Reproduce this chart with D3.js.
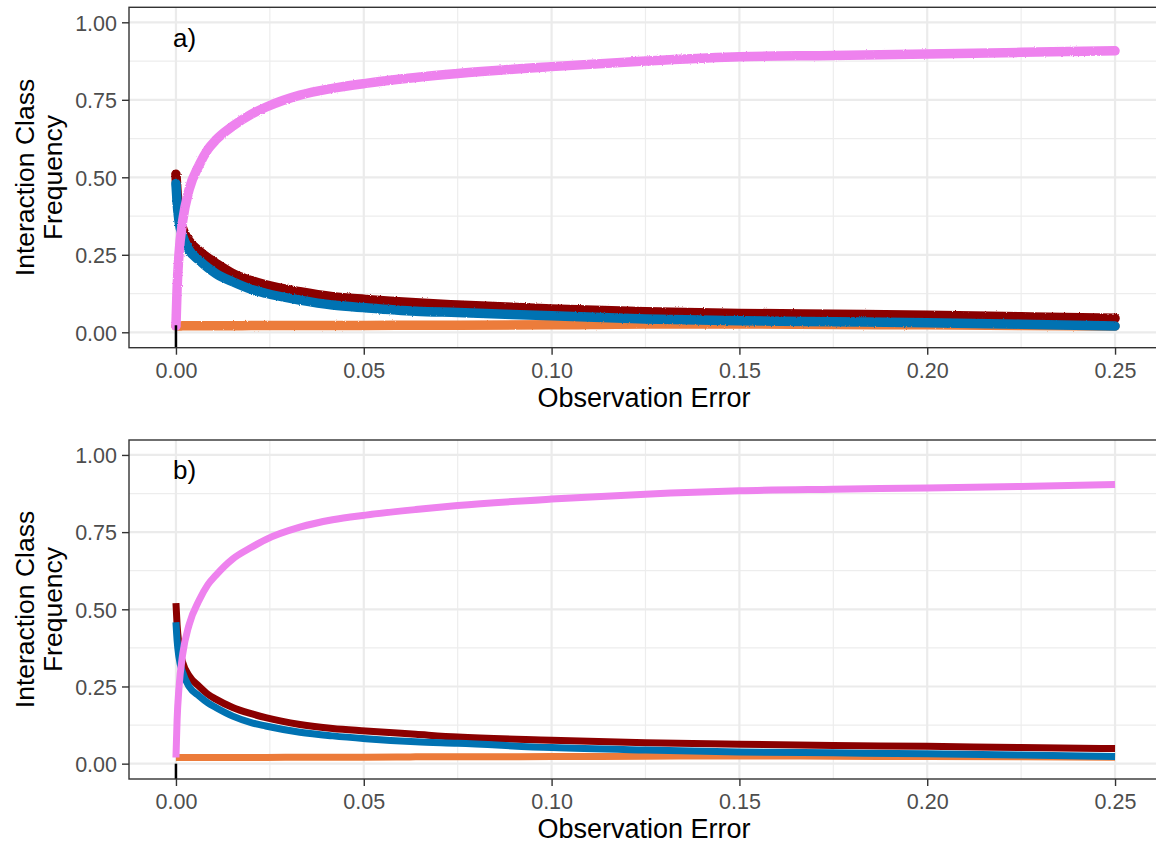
<!DOCTYPE html>
<html>
<head>
<meta charset="utf-8">
<script src="https://cdn.jsdelivr.net/npm/d3@7"></script>
<style>
  html, body { margin: 0; padding: 0; background: #ffffff; }
  svg { display: block; font-family: "Liberation Sans", Arial, sans-serif; }
</style>
</head>
<body>
<svg id="chart" width="1156" height="843"></svg>
<script>
// ---------- DATA ----------
const xValues = [0, 0.0003, 0.0008, 0.0018, 0.0035, 0.0062, 0.0085, 0.0106, 0.0151, 0.02, 0.0239, 0.033, 0.0417, 0.0505, 0.0638, 0.075, 0.1, 0.125, 0.15, 0.175, 0.2, 0.225, 0.25];

// Panel a
const pinkA   = [0.02, 0.14, 0.25, 0.36, 0.46, 0.54, 0.59, 0.62, 0.665, 0.703, 0.726, 0.765, 0.787, 0.803, 0.822, 0.835, 0.857, 0.875, 0.889, 0.893, 0.898, 0.903, 0.908];
const redA    = [0.51, 0.45, 0.39, 0.335, 0.295, 0.262, 0.24, 0.223, 0.19, 0.167, 0.153, 0.131, 0.115, 0.106, 0.095, 0.088, 0.075, 0.066, 0.061, 0.058, 0.055, 0.050, 0.045];
const blueA   = [0.48, 0.42, 0.36, 0.31, 0.265, 0.232, 0.208, 0.19, 0.163, 0.139, 0.126, 0.104, 0.088, 0.079, 0.068, 0.064, 0.053, 0.043, 0.037, 0.034, 0.031, 0.026, 0.02];
const orangeA = [0.02, 0.02, 0.02, 0.021, 0.021, 0.021, 0.021, 0.021, 0.021, 0.022, 0.022, 0.022, 0.022, 0.022, 0.023, 0.023, 0.024, 0.027, 0.027, 0.025, 0.024, 0.022, 0.02];
const blackXA = [0, 0];
const blackA  = [-0.06, 0.023];

// Panel b
const pinkB   = [0.02, 0.14, 0.245, 0.355, 0.45, 0.53, 0.58, 0.61, 0.663, 0.70, 0.726, 0.766, 0.79, 0.805, 0.823, 0.836, 0.857, 0.873, 0.884, 0.889, 0.893, 0.898, 0.904];
const redB    = [0.52, 0.45, 0.385, 0.328, 0.285, 0.25, 0.225, 0.209, 0.182, 0.162, 0.149, 0.127, 0.114, 0.106, 0.095, 0.086, 0.076, 0.068, 0.063, 0.059, 0.056, 0.052, 0.049];
const blueB   = [0.458, 0.40, 0.345, 0.295, 0.25, 0.219, 0.197, 0.182, 0.154, 0.133, 0.122, 0.102, 0.09, 0.081, 0.071, 0.066, 0.052, 0.044, 0.038, 0.035, 0.032, 0.028, 0.023];
const orangeB = [0.02, 0.02, 0.02, 0.02, 0.02, 0.02, 0.02, 0.02, 0.02, 0.02, 0.02, 0.021, 0.021, 0.021, 0.022, 0.022, 0.023, 0.024, 0.025, 0.024, 0.023, 0.022, 0.021];
const blackXB = [0, 0];
const blackB  = [-0.06, 0.0];

const xTicks = [0, 0.05, 0.10, 0.15, 0.20, 0.25];
const xMinor = [0.025, 0.075, 0.125, 0.175, 0.225];
const yTicks = [0, 0.25, 0.5, 0.75, 1.0];
const yMinor = [0.125, 0.375, 0.625, 0.875];
const panelLabels = ["a)", "b)"];
const xTitle = "Observation Error";
const yTitleLines = ["Interaction Class", "Frequency"];

const colors = { pink: "#EE82EE", red: "#8B0000", blue: "#0072B2", orange: "#EC7B3A", black: "#000000" };

// ---------- LAYOUT ----------
const svg = d3.select("#chart");
const frameLeft = 129, frameRight = 1162;
const panels = [
  { top: 7.3, bottom: 347.7, label: panelLabels[0], width: 9.5, cap: "round", rough: true,
    series: [
      { x: xValues, y: orangeA, c: colors.orange },
      { x: xValues, y: redA, c: colors.red },
      { x: xValues, y: blueA, c: colors.blue },
      { x: xValues, y: pinkA, c: colors.pink },
      { x: blackXA, y: blackA, c: colors.black, w: 2.5 }
    ] },
  { top: 440, bottom: 779, label: panelLabels[1], width: 7, cap: "butt", rough: false,
    series: [
      { x: xValues, y: orangeB, c: colors.orange },
      { x: xValues, y: redB, c: colors.red },
      { x: xValues, y: blueB, c: colors.blue },
      { x: xValues, y: pinkB, c: colors.pink },
      { x: blackXB, y: blackB, c: colors.black, w: 2.5 }
    ] }
];

const x = d3.scaleLinear().domain([-0.0125, 0.2625]).range([frameLeft, frameRight]);

// roughness filter for the noisy panel a
const defs = svg.append("defs");
const filt = defs.append("filter").attr("id", "rough").attr("x", "-5%").attr("y", "-20%").attr("width", "110%").attr("height", "140%");
filt.append("feTurbulence").attr("type", "fractalNoise").attr("baseFrequency", "0.9").attr("numOctaves", 2).attr("seed", 3).attr("result", "noise");
filt.append("feDisplacementMap").attr("in", "SourceGraphic").attr("in2", "noise").attr("scale", 2.2).attr("xChannelSelector", "R").attr("yChannelSelector", "G");

panels.forEach((p, i) => {
  const y = d3.scaleLinear().domain([-0.0497, 1.0484]).range([p.bottom, p.top]);
  const g = svg.append("g");

  defs.append("clipPath").attr("id", "clip" + i)
    .append("rect").attr("x", frameLeft).attr("y", p.top).attr("width", frameRight - frameLeft).attr("height", p.bottom - p.top);

  g.append("rect").attr("x", frameLeft).attr("y", p.top).attr("width", frameRight - frameLeft).attr("height", p.bottom - p.top).attr("fill", "#ffffff");

  // minor grid
  g.selectAll(".ym").data(yMinor).join("line")
    .attr("x1", frameLeft).attr("x2", frameRight).attr("y1", d => y(d)).attr("y2", d => y(d))
    .attr("stroke", "#EDEDED").attr("stroke-width", 1.2);
  g.selectAll(".xm").data(xMinor).join("line")
    .attr("y1", p.top).attr("y2", p.bottom).attr("x1", d => x(d)).attr("x2", d => x(d))
    .attr("stroke", "#EDEDED").attr("stroke-width", 1.2);
  // major grid
  g.selectAll(".yM").data(yTicks).join("line")
    .attr("x1", frameLeft).attr("x2", frameRight).attr("y1", d => y(d)).attr("y2", d => y(d))
    .attr("stroke", "#EBEBEB").attr("stroke-width", 2.2);
  g.selectAll(".xM").data(xTicks).join("line")
    .attr("y1", p.top).attr("y2", p.bottom).attr("x1", d => x(d)).attr("x2", d => x(d))
    .attr("stroke", "#EBEBEB").attr("stroke-width", 2.2);

  // series
  const lines = g.append("g").attr("clip-path", "url(#clip" + i + ")");
  const inner = lines.append("g");
  if (p.rough) inner.attr("filter", "url(#rough)");
  p.series.forEach(s => {
    const pts = s.x.map((xv, k) => [xv, s.y[k]]);
    const gen = d3.line().x(d => x(d[0])).y(d => y(d[1])).curve(d3.curveMonotoneX);
    (s.w ? lines : inner).append("path")
      .attr("d", gen(pts))
      .attr("fill", "none")
      .attr("stroke", s.c)
      .attr("stroke-width", s.w || p.width)
      .attr("stroke-linecap", s.w ? "butt" : p.cap)
      .attr("stroke-linejoin", "round");
  });

  // frame
  g.append("rect").attr("x", frameLeft).attr("y", p.top).attr("width", frameRight - frameLeft).attr("height", p.bottom - p.top)
    .attr("fill", "none").attr("stroke", "#333333").attr("stroke-width", 1.4);

  // axes
  const yAxis = d3.axisLeft(y).tickValues(yTicks).tickFormat(d3.format(".2f")).tickSize(7).tickPadding(5);
  const ya = g.append("g").attr("transform", `translate(${frameLeft},0)`).call(yAxis);
  const xAxis = d3.axisBottom(x).tickValues(xTicks).tickFormat(d3.format(".2f")).tickSize(7).tickPadding(6);
  const xa = g.append("g").attr("transform", `translate(0,${p.bottom})`).call(xAxis);
  [ya, xa].forEach(a => {
    a.select(".domain").remove();
    a.selectAll(".tick line").attr("stroke", "#333333").attr("stroke-width", 1.4);
    a.selectAll(".tick text").attr("fill", "#4D4D4D").style("font-size", "21.5px")
      .style("font-family", '"Liberation Sans", Arial, sans-serif');
  });
  xa.selectAll(".tick text").attr("dy", null).attr("y", 30).attr("dominant-baseline", "auto");
  ya.selectAll(".tick text").attr("dy", "0.36em");

  // axis titles
  g.append("text").attr("x", 644).attr("y", p.bottom + 59)
    .attr("text-anchor", "middle").attr("fill", "#000").style("font-size", "27px").text(xTitle);
  const cy = (p.top + p.bottom) / 2;
  [34, 62].forEach((cx, k) => {
    g.append("text").attr("transform", `translate(${cx},${cy}) rotate(-90)`)
      .attr("text-anchor", "middle").attr("fill", "#000").style("font-size", "26.5px").text(yTitleLines[k]);
  });

  // panel label
  g.append("text").attr("x", x(0) - 3).attr("y", y(0.97) + 15).attr("fill", "#000")
    .style("font-size", "26px").text(p.label);
});
</script>
</body>
</html>
